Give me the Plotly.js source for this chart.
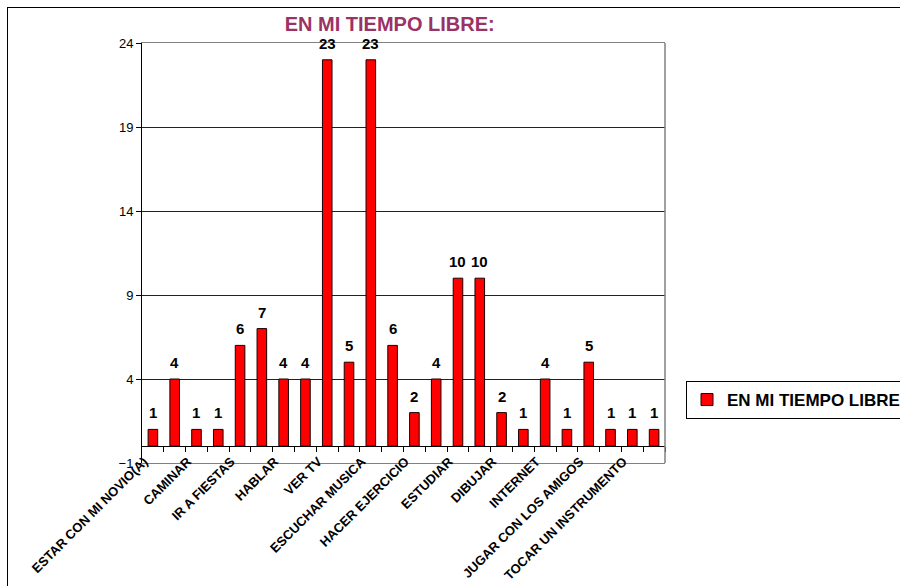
<!DOCTYPE html>
<html>
<head>
<meta charset="utf-8">
<script src="https://cdn.plot.ly/plotly-3.0.1.min.js"></script>
<style>
  html, body { margin: 0; padding: 0; background: #fff; }
  #wrap { position: relative; width: 900px; height: 586px; overflow: hidden; }
  #chart { width: 900px; height: 586px; }
  #frame { position: absolute; left: 7px; top: 7px; width: 1000px; height: 1000px;
           border-top: 1.5px solid #000; border-left: 1.5px solid #000; pointer-events: none; }
</style>
</head>
<body>
<div id="wrap">
  <div id="chart"></div>
  <div id="frame"></div>
</div>
<script>
// Data
const chartTitle = "EN MI TIEMPO LIBRE:";
const seriesName = "EN MI TIEMPO LIBRE";
// Only every other category label is printed in the reference; unseen ones are left blank.
const categories = [
  "ESTAR CON MI NOVIO(A)", "", "CAMINAR", "", "IR A FIESTAS", "", "HABLAR", "",
  "VER TV", "", "ESCUCHAR MUSICA", "", "HACER EJERCICIO", "", "ESTUDIAR", "",
  "DIBUJAR", "", "INTERNET", "", "JUGAR CON LOS AMIGOS", "", "TOCAR UN INSTRUMENTO", ""
];
const values = [1, 4, 1, 1, 6, 7, 4, 4, 23, 5, 23, 6, 2, 4, 10, 10, 2, 1, 4, 1, 5, 1, 1, 1];
const yTicks = [-1, 4, 9, 14, 19, 24];

const idx = values.map((_, i) => i);
const labelIdx = idx.filter(i => categories[i] !== "");
const boundaries = idx.map(i => i + 0.5);
const FONT = "Liberation Sans, Arial, sans-serif";

const traces = [
  {
    type: "bar",
    name: seriesName,
    x: idx,
    y: values,
    marker: { color: "#FF0000", line: { color: "#1a0000", width: 1 } },
    hoverinfo: "y",
    showlegend: true
  },
  {
    type: "scatter",
    mode: "markers",
    x: idx,
    y: values,
    xaxis: "x2",
    marker: { opacity: 0, size: 1 },
    hoverinfo: "skip",
    showlegend: false
  }
];

const annotations = idx.map(i => ({
  x: i, y: values[i], xref: "x", yref: "y",
  text: String(values[i]),
  showarrow: false, yanchor: "bottom", yshift: 6,
  font: { family: FONT, size: 15, color: "#000", weight: "bold" }
}));

const layout = {
  width: 900, height: 586,
  margin: { l: 142, r: 235, t: 43, b: 123, autoexpand: false },
  paper_bgcolor: "#fff",
  plot_bgcolor: "#fff",
  bargap: 0.56,
  showlegend: true,
  title: {
    text: chartTitle,
    x: 0.433, xref: "container", xanchor: "center",
    y: 0.959, yref: "container", yanchor: "middle",
    font: { family: FONT, size: 20, color: "#993366", weight: "bold" }
  },
  xaxis: {
    type: "linear",
    range: [-0.5, values.length - 0.5],
    tickvals: labelIdx,
    ticktext: labelIdx.map(i => categories[i]),
    tickangle: -45,
    ticks: "",
    ticklabelstandoff: -15,
    ticklabelshift: -9,
    showgrid: false, zeroline: false,
    showline: true, linecolor: "#808080", linewidth: 1, mirror: true,
    tickfont: { family: FONT, size: 13, color: "#000", weight: "bold" },
    fixedrange: true
  },
  xaxis2: {
    type: "linear",
    overlaying: "x",
    anchor: "free",
    position: 1 / 25,
    range: [-0.5, values.length - 0.5],
    tickvals: boundaries,
    showticklabels: false,
    ticks: "outside", ticklen: 5, tickwidth: 1, tickcolor: "#000",
    showgrid: false, zeroline: false,
    showline: true, linecolor: "#000", linewidth: 1
  },
  yaxis: {
    range: [-1, 24],
    tickvals: yTicks,
    ticks: "outside", ticklen: 5, tickcolor: "#000",
    showline: true, linecolor: "#000", linewidth: 1,
    showgrid: true, gridcolor: "#222", gridwidth: 1,
    zeroline: false,
    tickfont: { family: FONT, size: 13, color: "#000" },
    fixedrange: true
  },
  legend: {
    x: (686 - 142) / 523, xanchor: "left",
    y: 0.15, yanchor: "middle",
    bgcolor: "#fff", bordercolor: "#000", borderwidth: 1,
    font: { family: FONT, size: 17, color: "#000", weight: "bold" },
    itemwidth: 30
  },
  shapes: [
    { type: "line", xref: "paper", yref: "paper", x0: 1, x1: 1, y0: 0, y1: 1,
      line: { color: "#808080", width: 1.5 } }
  ],
  annotations: annotations
};

Plotly.newPlot("chart", traces, layout, { displayModeBar: false, staticPlot: true });
</script>
</body>
</html>
